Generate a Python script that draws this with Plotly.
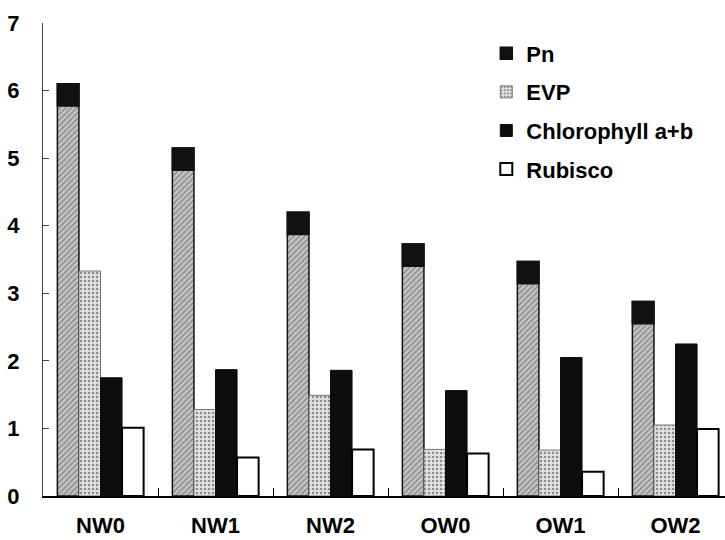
import plotly.graph_objects as go

categories = ["NW0", "NW1", "NW2", "OW0", "OW1", "OW2"]
pn = [6.10, 5.15, 4.20, 3.73, 3.47, 2.88]
evp = [3.33, 1.28, 1.49, 0.69, 0.68, 1.05]
chl = [1.75, 1.87, 1.86, 1.56, 2.05, 2.25]
rubisco = [1.01, 0.57, 0.69, 0.63, 0.36, 0.99]
y_ticks = [0, 1, 2, 3, 4, 5, 6, 7]

CAP = 0.33  # dark top band of the Pn bars (style)

FONT = dict(family="Liberation Sans, Arial, sans-serif", size=22, color="black", weight="bold")

fig = go.Figure()

fig.add_trace(go.Bar(
    x=categories, y=pn, name="Pn", offsetgroup="pn", showlegend=False,
    marker=dict(color="#b0b0b0", line=dict(color="#111", width=1.5),
                pattern=dict(shape="/", fgcolor="#4a4a4a", bgcolor="#c4c4c4", size=4, solidity=0.35)),
))
fig.add_trace(go.Bar(
    x=categories, y=[CAP] * len(pn), base=[v - CAP for v in pn], name="Pn",
    offsetgroup="pn", legendgroup="a", legendrank=1,
    marker=dict(color="#111", line=dict(color="#111", width=1.5)),
))
fig.add_trace(go.Bar(
    x=categories, y=evp, name="EVP", offsetgroup="evp", legendgroup="b", legendrank=2,
    marker=dict(color="#dcdcdc", line=dict(color="#777", width=1),
                pattern=dict(shape=".", fgcolor="#333", bgcolor="#e2e2e2", size=4, solidity=0.3)),
))
fig.add_trace(go.Bar(
    x=categories, y=chl, name="Chlorophyll a+b", offsetgroup="chl", legendgroup="c", legendrank=3,
    marker=dict(color="#0d0d0d", line=dict(color="#0d0d0d", width=1)),
))
fig.add_trace(go.Bar(
    x=categories, y=rubisco, name="Rubisco", offsetgroup="rub", legendgroup="d", legendrank=4,
    marker=dict(color="white", line=dict(color="black", width=2)),
))

fig.update_layout(
    width=725, height=540,
    margin=dict(l=43, r=0, t=23, b=44),
    paper_bgcolor="white", plot_bgcolor="white",
    barmode="group", bargap=0.25, bargroupgap=0,
    font=FONT,
    legend=dict(x=0.65, y=0.98, xanchor="left", yanchor="top",
                font=FONT, bgcolor="rgba(0,0,0,0)",
                traceorder="grouped", tracegroupgap=7),
    xaxis=dict(range=[-0.5, -0.5 + 682 / 115], showline=True, linecolor="black", linewidth=2,
               ticks="inside", ticklen=8, tickcolor="black", tickson="boundaries",
               ticklabelstandoff=9, showgrid=False, zeroline=False, tickfont=FONT,
               automargin=False),
    yaxis=dict(range=[0, 7], tickvals=y_ticks, showline=True, linecolor="#444", linewidth=1,
               ticks="inside", ticklen=6, tickcolor="#444", ticklabelstandoff=18,
               showgrid=False, zeroline=False, tickfont=FONT, automargin=False),
)

fig.write_html("out.html")
